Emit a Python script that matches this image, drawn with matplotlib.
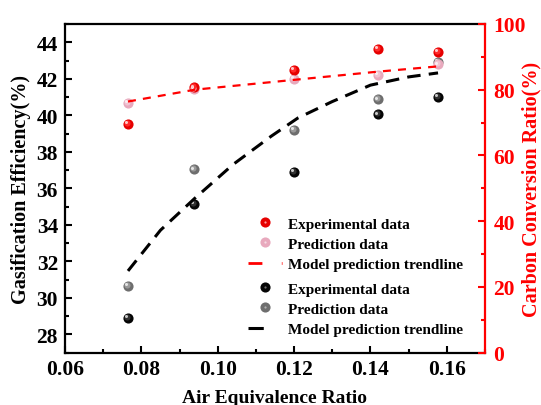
import matplotlib
matplotlib.use("Agg")
import matplotlib.pyplot as plt
import matplotlib.transforms as mtransforms
from matplotlib.lines import Line2D
from matplotlib.legend_handler import HandlerTuple
from matplotlib.ticker import MultipleLocator

# ---------------- data ----------------
air_ratio = [0.0765, 0.0937, 0.1200, 0.1419, 0.1577]

ge_experimental = [28.88, 35.13, 36.89, 40.05, 41.02]
ge_prediction = [30.65, 37.03, 39.19, 40.87, 42.94]
ge_trend_x = [0.0765, 0.085, 0.094, 0.104, 0.114, 0.121, 0.130, 0.140, 0.150, 0.1577]
ge_trend_y = [31.47, 33.70, 35.45, 37.30, 38.85, 39.85, 40.75, 41.65, 42.10, 42.32]

ccr_experimental = [69.6, 80.7, 86.0, 92.3, 91.4]
ccr_prediction = [76.1, 80.2, 83.2, 84.4, 87.7]
ccr_trend_x = [0.0765, 0.094, 0.120, 0.142, 0.1577]
ccr_trend_y = [76.4, 80.0, 83.0, 85.5, 87.1]

legend_labels = ["Experimental data", "Prediction data", "Model prediction trendline"]

# ---------------- style ----------------
plt.rcParams["font.family"] = ["Liberation Serif", "DejaVu Serif"]
plt.rcParams["font.weight"] = "bold"

RED = "#ff0000"
fig = plt.figure(figsize=(5.41, 4.06), dpi=100)
W, H = 541, 406
L, R, T, B = 65, 485, 25, 353.5
ax1 = fig.add_axes([L / W, 1 - B / H, (R - L) / W, (B - T) / H])
ax2 = ax1.twinx()

ms = 7.3


def sphere(ax, x, y, base, mid, hl, z):
    ax.plot(x, y, "o", ls="none", ms=ms, color=base, mec="none", zorder=z)
    t1 = mtransforms.offset_copy(ax.transData, fig=fig, x=-0.7, y=0.7, units="points")
    ax.plot(x, y, "o", ls="none", ms=ms * 0.6, color=mid, mec="none", zorder=z + 0.1, transform=t1)
    t2 = mtransforms.offset_copy(ax.transData, fig=fig, x=-1.3, y=1.3, units="points")
    ax.plot(x, y, "o", ls="none", ms=ms * 0.3, color=hl, mec="none", zorder=z + 0.2, transform=t2)


# left axis series (black / gray)
sphere(ax1, air_ratio, ge_prediction, "#6e6e6e", "#9a9a9a", "#e6e6e6", 3)
sphere(ax1, air_ratio, ge_experimental, "#050505", "#303030", "#c8c8c8", 3)
ax1.plot(ge_trend_x, ge_trend_y, color="black", lw=2.2, ls=(0, (4.4, 2.7)), zorder=5)

# right axis series (red / pink)
sphere(ax2, air_ratio, ccr_prediction, "#e8a9bd", "#f0c4d2", "#fbecf1", 3)
sphere(ax2, air_ratio, ccr_experimental, "#e60000", "#ff2a2a", "#ffc8c8", 3)
ax2.plot(ccr_trend_x, ccr_trend_y, color=RED, lw=1.6, ls=(0, (3.6, 3.2)), zorder=5)

# axes limits / ticks
ax1.set_xlim(0.06, 0.17)
ax1.set_ylim(27, 45)
ax2.set_ylim(0, 100)
ax1.xaxis.set_major_locator(MultipleLocator(0.02))
ax1.xaxis.set_minor_locator(MultipleLocator(0.01))
ax1.yaxis.set_major_locator(MultipleLocator(2))
ax1.yaxis.set_minor_locator(MultipleLocator(1))
ax2.yaxis.set_major_locator(MultipleLocator(20))
ax2.yaxis.set_minor_locator(MultipleLocator(10))
ax1.set_xticks([0.06, 0.08, 0.10, 0.12, 0.14, 0.16])
ax1.set_xticklabels(["0.06", "0.08", "0.10", "0.12", "0.14", "0.16"])

ax1.tick_params(which="both", direction="in", top=False, right=False, width=1.5,
                labelsize=15.5, pad=5)
ax1.tick_params(which="major", length=5)
ax1.tick_params(which="minor", length=3)
ax2.tick_params(which="both", direction="in", width=1.5, colors=RED, labelsize=15.5, pad=6)
ax2.tick_params(which="major", length=5)
ax2.tick_params(which="minor", length=3)
for lab in ax1.get_xticklabels() + ax1.get_yticklabels() + ax2.get_yticklabels():
    lab.set_fontweight("bold")

for sp in ["left", "bottom", "top"]:
    ax1.spines[sp].set_linewidth(1.6)
ax1.spines["right"].set_visible(False)
for sp in ["left", "bottom", "top"]:
    ax2.spines[sp].set_visible(False)
ax2.spines["right"].set_color(RED)
ax2.spines["right"].set_linewidth(1.6)

ax1.set_xlabel("Air Equivalence Ratio", fontsize=14, fontweight="bold")
ax1.set_ylabel("Gasification Efficiency(%)", fontsize=14.5, fontweight="bold")
ax2.set_ylabel("Carbon Conversion Ratio(%)", fontsize=14.5, fontweight="bold", color=RED)
ax1.xaxis.set_label_coords(0.5, -0.11)
ax1.yaxis.set_label_coords(-0.082, 0.5)
ax2.yaxis.set_label_coords(1.087, 0.5)

# legends


def sphere_handle(base, hl):
    return (Line2D([], [], marker="o", ls="none", ms=ms, color=base, mec="none"),
            Line2D([], [], marker="o", ls="none", ms=ms * 0.22, color=hl, mec="none"))


red_handles = [sphere_handle("#e60000", "#ff9a9a"),
               sphere_handle("#e8a9bd", "#f6dbe4"),
               Line2D([], [], color=RED, lw=2.0, ls=(0, (5, 7)))]
blk_handles = [sphere_handle("#050505", "#707070"),
               sphere_handle("#6e6e6e", "#b0b0b0"),
               Line2D([], [], color="black", lw=2.2, ls=(0, (5, 7)))]

common = dict(frameon=False, loc="upper left", bbox_transform=fig.transFigure,
              borderaxespad=0, borderpad=0, handlelength=2.25, handletextpad=0.4,
              labelspacing=0.42, prop=dict(family="Liberation Serif", weight="bold", size=11),
              handler_map={tuple: HandlerTuple(ndivide=1, pad=0)})
leg1 = ax2.legend(red_handles, legend_labels, bbox_to_anchor=(248 / W, 1 - 218 / H), **common)
ax2.add_artist(leg1)
leg2 = ax2.legend(blk_handles, legend_labels, bbox_to_anchor=(248 / W, 1 - 283 / H), **common)

fig.savefig("out.png", dpi=100)
